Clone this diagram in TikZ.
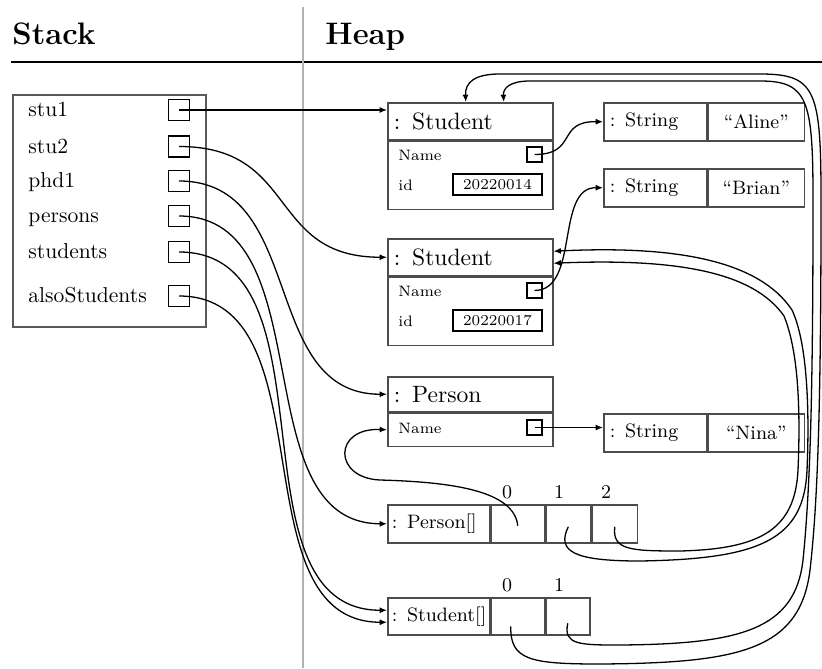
\documentclass[tikz,border=0pt]{standalone}
\usetikzlibrary{arrows.meta}
\newlength{\px}\setlength{\px}{0.4635pt}

\begin{document}
\begin{tikzpicture}[x=0.4635pt,y=-0.4635pt,
  frame/.style={draw=black!65, line width=0.7pt, inner sep=0pt, anchor=north west},
  objhead/.style={draw=black!70, line width=0.7pt, anchor=north west, inner ysep=0pt, inner xsep=6\px, align=left, minimum height=37\px, font=\fontsize{10.95}{13}\selectfont},
  objbody/.style={draw=black!70, line width=0.7pt, anchor=north west, inner sep=0pt, minimum width=165\px},
  cell/.style={draw=black!70, line width=0.7pt, anchor=north west, inner ysep=0pt, inner xsep=6\px, align=left, minimum height=38\px, font=\small},
  lbl/.style={inner sep=0pt, anchor=west, text height=1.5ex, text depth=.25ex},
  ptr/.style={draw, line width=0.9pt, inner sep=0pt, minimum size=21\px},
  fptr/.style={draw, line width=0.9pt, inner sep=0pt, minimum size=15\px},
  val/.style={draw, line width=0.9pt, inner sep=0pt, minimum height=21\px, minimum width=89\px, font=\scriptsize},
  idx/.style={inner sep=0pt, font=\small},
  ref/.style={line width=0.6pt, -{Latex[length=3.4pt,width=2.8pt]}},
]
\useasboundingbox (0,0) rectangle (822,668);

% titles
\node[anchor=base west, inner sep=0pt, font=\Large\bfseries] (stackhd) at (12,45) {Stack};
\node[anchor=base west, inner sep=0pt, font=\Large\bfseries] (heaphd) at (325,45) {Heap};
\draw[line width=0.6pt] (11,62) -- (822,62);
\draw[black!30, line width=0.8pt] (303,7) -- (303,668);

% stack
\node[frame, minimum width=193\px, minimum height=232\px] (stack) at (12,94) {};
\node[lbl] at (28,111) {stu1};          \node[ptr] (pstu1) at (179,110) {};
\node[lbl] at (28,147.5) {stu2};        \node[ptr] (pstu2) at (179,146.5) {};
\node[lbl] at (28,182) {phd1};          \node[ptr] (pphd1) at (179,181) {};
\node[lbl] at (28,217) {persons};       \node[ptr] (ppersons) at (179,216) {};
\node[lbl] at (28,253) {students};      \node[ptr] (pstudents) at (179,252) {};
\node[lbl] at (28,297) {alsoStudents};  \node[ptr] (palso) at (179,296) {};

% heap objects
\node[objhead, text width=153\px] (s1h) at (387,102) {: Student};
\node[objbody, minimum height=68\px] (s1b) at (s1h.south west) {};
\node[lbl, font=\scriptsize] at (398,155) {Name};
\node[fptr] (s1name) at (534.5,154.5) {};
\node[lbl, font=\scriptsize] at (398,185) {id};
\node[val] (s1id) at (497.5,184.5) {20220014};

\node[objhead, text width=153\px] (s2h) at (387,238) {: Student};
\node[objbody, minimum height=68\px] (s2b) at (s2h.south west) {};
\node[lbl, font=\scriptsize] at (398,291) {Name};
\node[fptr] (s2name) at (534.5,290.5) {};
\node[lbl, font=\scriptsize] at (398,321) {id};
\node[val] (s2id) at (497.5,320.5) {20220017};

\node[objhead, text width=153\px, minimum height=35\px] (ph) at (387,376) {: Person};
\node[objbody, minimum height=33\px] (pb) at (ph.south west) {};
\node[lbl, font=\scriptsize] at (398,427.5) {Name};
\node[fptr] (pname) at (534.5,427.5) {};

% strings
\node[cell, text width=91\px] (aline) at (603,102) {: String};
\node[cell, text width=84\px, align=center] (alinev) at (aline.north east) {``Aline''};
\node[cell, text width=91\px] (brian) at (603,168) {: String};
\node[cell, text width=84\px, align=center] (brianv) at (brian.north east) {``Brian''};
\node[cell, text width=91\px] (nina) at (603,413) {: String};
\node[cell, text width=84\px, align=center] (ninav) at (nina.north east) {``Nina''};

% arrays
\node[cell, text width=94\px, inner xsep=4\px] (parr) at (387,504) {\mbox{: Person[]}};
\node[cell, minimum width=53\px, inner sep=0pt] (pa0) at (parr.north east) {};
\node[cell, minimum width=45\px, inner sep=0pt] (pa1) at (pa0.north east) {};
\node[cell, minimum width=45\px, inner sep=0pt] (pa2) at (pa1.north east) {};
\node[idx] at (507,492) {0};
\node[idx] at (559,492) {1};
\node[idx] at (606,492) {2};

\node[cell, text width=94\px, inner xsep=4\px, minimum height=37\px] (sarr) at (387,597) {\mbox{: Student[]}};
\node[cell, minimum width=53\px, minimum height=37\px, inner sep=0pt] (sa0) at (sarr.north east) {};
\node[cell, minimum width=44\px, minimum height=37\px, inner sep=0pt] (sa1) at (sa0.north east) {};
\node[idx] at (507,585) {0};
\node[idx] at (559,585) {1};

% references from the stack
\draw[ref] (pstu1.center) -- (pstu1.center -| s1h.west);
\draw[ref] (pstu2.center) to[out=0,in=180,looseness=1.3] (s2h.west);
\draw[ref] (pphd1.center) to[out=0,in=180,looseness=1.1] (ph.west);
\draw[ref] (ppersons.center) to[out=0,in=180] (parr.west);
\draw[ref] (pstudents.center) to[out=0,in=180] ([yshift=6\px]sarr.west);
\draw[ref] (palso.center) to[out=0,in=180] ([yshift=-6\px]sarr.west);

% fields
\draw[ref] (s1name.center) .. controls (578,154.5) and (556,121) .. (aline.west);
\draw[ref] (s2name.center) .. controls (580,290.5) and (555,187) .. (brian.west);
\draw[ref] (pname.center) -- (pname.center -| nina.west);

% array slots
\draw[ref] ([yshift=-2\px]pa0.center) .. controls (514,490) and (450,482) .. (380,480)
  .. controls (333,478) and (333,427.5) .. (pb.west);
\draw[ref] ([yshift=-3\px]pa1.center) .. controls (556,552) and (575,561) .. (640,561)
  .. controls (760,559) and (804,540) .. (807,470)
  .. controls (810,400) and (806,340) .. (792,310)
  .. controls (760,262) and (680,245) .. ([yshift=6\px]s2h.east);
\draw[ref] ([yshift=-3\px]pa2.center) .. controls (612,550) and (630,551) .. (680,551)
  .. controls (760,549) and (795,530) .. (798,470)
  .. controls (801,400) and (797,348) .. (784,316)
  .. controls (754,273) and (680,258) .. ([yshift=-6\px]s2h.east);
\draw[ref] ([xshift=-7\px,yshift=-10\px]sa0.center) .. controls (510,660) and (530,664) .. (600,664)
  .. controls (740,663) and (800,650) .. (810,570)
  .. controls (818,500) and (821,400) .. (821,200)
  .. controls (821,90) and (816,74) .. (760,74)
  -- (500,74) .. controls (475,74) and (465,82) .. ([xshift=-4.5\px]s1h.north);
\draw[ref] ([yshift=-7\px]sa1.center) .. controls (563,645) and (580,645) .. (620,645)
  .. controls (740,644) and (795,630) .. (803,560)
  .. controls (810,490) and (813,400) .. (813,200)
  .. controls (813,100) and (808,81) .. (760,81)
  -- (530,81) .. controls (510,81) and (503,88) .. ([xshift=33.5\px]s1h.north);
\end{tikzpicture}
\end{document}
